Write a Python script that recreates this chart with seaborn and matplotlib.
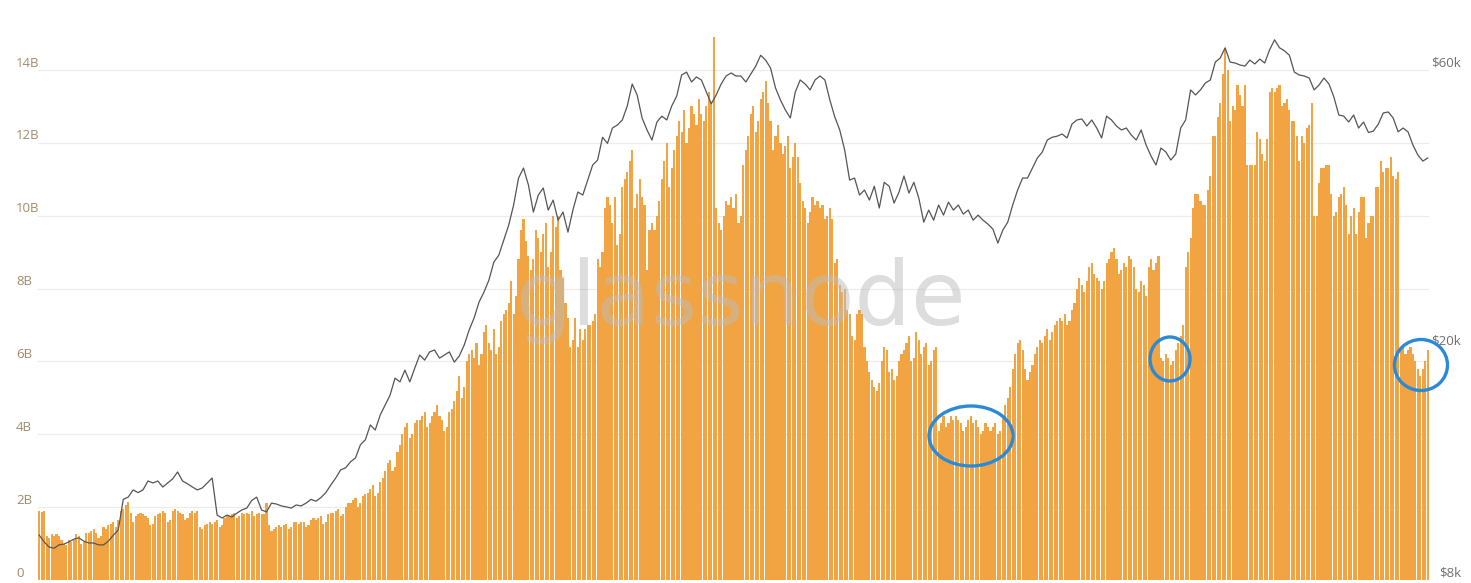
import numpy as np
import matplotlib
matplotlib.use("Agg")
import matplotlib.pyplot as plt
import seaborn as sns
from matplotlib.patches import Ellipse

# ---------------- data ----------------
# daily on-chain transfer volume in billions USD, one row per week (Wed..Tue)
volume_weeks = [
    [1.9, 1.88, 1.9, 1.2, 1.15, 1.25, 1.22],
    [1.25, 1.2, 1.1, 1.0, 0.95, 1.1, 1.05],
    [1.1, 1.25, 1.2, 1.0, 1.05, 1.3, 1.3],
    [1.35, 1.4, 1.3, 1.15, 1.2, 1.45, 1.4],
    [1.5, 1.55, 1.6, 1.45, 1.65, 1.9, 1.95],
    [2.05, 2.15, 1.85, 1.6, 1.75, 1.8, 1.85],
    [1.8, 1.75, 1.7, 1.5, 1.55, 1.75, 1.8],
    [1.85, 1.9, 1.85, 1.6, 1.65, 1.9, 1.95],
    [1.9, 1.85, 1.8, 1.65, 1.7, 1.85, 1.9],
    [1.85, 1.9, 1.45, 1.4, 1.5, 1.55, 1.6],
    [1.55, 1.6, 1.65, 1.45, 1.5, 1.7, 1.75],
    [1.75, 1.8, 1.85, 1.7, 1.75, 1.85, 1.8],
    [1.85, 1.8, 1.9, 1.75, 1.8, 1.85, 1.8],
    [1.8, 2.1, 1.5, 1.35, 1.4, 1.45, 1.5],
    [1.45, 1.5, 1.55, 1.4, 1.45, 1.6, 1.6],
    [1.55, 1.6, 1.6, 1.45, 1.5, 1.65, 1.7],
    [1.65, 1.7, 1.75, 1.55, 1.6, 1.8, 1.85],
    [1.85, 1.9, 1.95, 1.75, 1.8, 2.0, 2.1],
    [2.1, 2.2, 2.25, 2.0, 2.1, 2.3, 2.35],
    [2.4, 2.5, 2.6, 2.3, 2.4, 2.7, 2.8],
    [3.0, 3.2, 3.3, 3.0, 3.1, 3.5, 3.7],
    [4.0, 4.2, 4.3, 3.9, 4.0, 4.3, 4.4],
    [4.4, 4.5, 4.6, 4.2, 4.3, 4.5, 4.6],
    [4.8, 4.5, 4.4, 4.1, 4.2, 4.6, 4.7],
    [4.9, 5.2, 5.6, 5.0, 5.3, 6.0, 6.2],
    [6.3, 6.1, 6.5, 5.9, 6.2, 6.8, 7.0],
    [6.5, 6.3, 6.9, 6.2, 6.4, 7.1, 7.3],
    [7.4, 7.6, 8.2, 7.3, 7.8, 8.8, 9.6],
    [9.9, 9.3, 8.9, 8.5, 8.8, 9.6, 9.4],
    [9.0, 9.5, 9.8, 8.6, 9.0, 10.0, 9.7],
    [10.0, 8.5, 8.3, 7.6, 7.2, 6.4, 6.6],
    [7.2, 6.4, 6.9, 6.6, 6.9, 7.0, 7.0],
    [7.1, 7.3, 8.8, 8.6, 9.0, 10.2, 10.5],
    [10.3, 9.8, 10.5, 9.2, 9.5, 10.8, 11.0],
    [11.2, 11.5, 11.8, 10.2, 10.6, 11.0, 10.5],
    [10.3, 8.5, 9.6, 9.8, 9.6, 10.0, 10.4],
    [11.0, 11.5, 12.0, 10.8, 11.3, 11.8, 12.2],
    [12.6, 12.3, 12.9, 12.0, 12.4, 13.0, 12.8],
    [12.5, 13.2, 12.8, 12.6, 13.0, 13.4, 13.1],
    [14.9, 10.2, 9.8, 9.6, 10.0, 10.4, 10.3],
    [10.5, 10.2, 10.6, 9.8, 10.0, 11.4, 11.8],
    [12.2, 12.8, 13.0, 12.3, 12.6, 13.2, 13.4],
    [13.7, 13.1, 12.6, 11.8, 12.2, 12.5, 12.0],
    [11.7, 11.9, 12.2, 11.3, 11.6, 12.0, 11.6],
    [10.9, 10.4, 10.2, 9.8, 10.1, 10.5, 10.3],
    [10.4, 10.2, 10.3, 9.9, 10.0, 10.2, 9.9],
    [8.7, 8.8, 8.1, 7.9, 8.0, 7.4, 7.3],
    [6.7, 6.6, 7.3, 7.4, 7.3, 6.4, 6.0],
    [5.7, 5.5, 5.3, 5.2, 5.4, 6.0, 6.4],
    [6.3, 5.7, 5.8, 5.5, 5.6, 6.0, 6.2],
    [6.3, 6.5, 6.7, 6.0, 6.1, 6.8, 6.6],
    [6.2, 6.4, 6.5, 5.9, 6.0, 6.3, 6.4],
    [4.1, 4.3, 4.5, 4.2, 4.3, 4.5, 4.4],
    [4.5, 4.4, 4.3, 4.1, 4.2, 4.4, 4.5],
    [4.3, 4.4, 4.2, 4.0, 4.1, 4.3, 4.2],
    [4.1, 4.2, 4.3, 4.0, 4.1, 4.5, 4.8],
    [5.0, 5.3, 5.8, 6.2, 6.5, 6.6, 6.3],
    [5.8, 5.5, 5.7, 5.9, 6.2, 6.4, 6.6],
    [6.5, 6.7, 6.9, 6.6, 6.8, 7.0, 7.1],
    [7.2, 7.1, 7.3, 7.0, 7.1, 7.4, 7.6],
    [8.0, 8.3, 8.1, 7.9, 8.2, 8.6, 8.7],
    [8.4, 8.3, 8.2, 8.0, 8.2, 8.7, 8.8],
    [9.0, 9.1, 8.8, 8.4, 8.5, 8.7, 8.6],
    [8.9, 8.8, 8.6, 8.0, 7.9, 8.2, 8.1],
    [7.8, 8.6, 8.8, 8.5, 8.7, 8.9, 6.1],
    [6.0, 6.2, 6.1, 5.9, 6.0, 6.3, 6.5],
    [6.7, 7.0, 8.6, 9.0, 9.4, 10.2, 10.6],
    [10.6, 10.4, 10.3, 10.3, 10.7, 11.1, 12.2],
]
volume_late = [
    12.2, 12.7, 13.1, 13.9, 14.6, 14.0, 12.6, 13.0, 12.9, 13.6,
    13.3, 13.0, 13.6, 11.4, 11.4, 11.4, 11.4, 12.3, 12.1, 11.7,
    11.5, 12.1, 13.4, 13.5, 13.4, 13.5, 13.6, 13.0, 13.1, 13.2,
    12.9, 12.6, 12.6, 12.2, 11.5, 12.2, 12.0, 12.4, 12.5, 13.1,
    10.0, 10.0, 10.9, 11.3, 11.3, 11.4, 11.4, 10.6, 10.0, 10.1,
    10.5, 10.6, 10.8, 10.3, 9.5, 10.0, 10.2, 9.5, 10.1, 10.5,
    10.5, 9.4, 9.8, 10.0, 10.0, 10.8, 10.8, 11.5, 11.2, 11.3,
    11.3, 11.6, 11.1, 11.0, 11.2,
]
volume_last = [6.3, 6.4, 6.2, 6.3, 6.4, 6.2, 6.0, 5.8, 5.6, 5.8, 6.0, 6.3]

# BTC price in thousands USD, one value every 2 days
price_k = [
    9.55, 9.3, 9.11, 9.07, 9.19, 9.22, 9.3, 9.4, 9.45, 9.33,
    9.26, 9.26, 9.19, 9.19, 9.33, 9.55, 9.75, 11.0, 11.1, 11.42,
    11.3, 11.42, 11.83, 11.74, 11.83, 11.55, 11.74, 11.93, 12.26, 11.83,
    11.7, 11.55, 11.42, 11.51, 11.74, 11.97, 10.34, 10.22, 10.34, 10.26,
    10.42, 10.55, 10.63, 10.95, 11.1, 10.55, 10.47, 10.84, 10.8, 10.72,
    10.68, 10.63, 10.76, 10.72, 10.84, 11.0, 10.92, 11.08, 11.3, 11.64,
    11.97, 12.36, 12.46, 12.76, 12.96, 13.65, 13.92, 14.76, 14.47, 15.35,
    15.97, 16.61, 17.76, 17.5, 18.33, 17.5, 18.48, 19.46, 19.07, 19.7,
    19.85, 19.22, 19.46, 19.7, 18.92, 19.38, 20.24, 21.48, 22.52, 23.98,
    24.95, 26.16, 28.09, 28.87, 30.64, 32.5, 35.19, 39.15, 40.73, 38.08,
    34.23, 36.61, 37.64, 34.5, 35.89, 33.15, 34.23, 31.62, 34.5, 37.05,
    36.61, 38.84, 41.22, 42.04, 46.0, 44.9, 47.71, 48.28, 49.25, 52.05,
    56.77, 54.37, 49.64, 47.34, 45.5, 48.85, 50.0, 49.25, 52.05, 54.1,
    58.83, 59.5, 57.22, 58.37, 57.68, 55.0, 52.5, 54.37, 56.77, 58.6,
    59.3, 58.6, 58.6, 57.22, 59.06, 60.93, 63.6, 62.4, 60.47, 55.89,
    53.3, 51.23, 49.64, 55.0, 57.68, 56.77, 55.46, 57.68, 58.6, 57.68,
    53.3, 49.84, 47.34, 43.74, 38.84, 39.15, 36.61, 37.34, 35.89, 37.9,
    34.78, 38.5, 37.9, 35.47, 37.05, 39.47, 36.9, 38.5, 36.18, 32.89,
    34.5, 33.15, 35.19, 33.82, 35.6, 34.5, 35.19, 33.95, 34.5, 33.15,
    33.82, 33.15, 32.63, 32.0, 30.28, 31.87, 32.89, 35.19, 37.34, 39.15,
    39.15, 40.73, 42.38, 43.4, 45.5, 46.0, 46.2, 46.6, 45.87, 48.47,
    49.25, 49.45, 48.09, 49.25, 47.71, 45.87, 50.0, 49.25, 48.09, 47.34,
    47.71, 46.41, 45.5, 47.34, 44.61, 42.7, 41.22, 44.08, 43.4, 42.04,
    43.05, 47.71, 49.25, 55.46, 54.37, 55.46, 57.0, 57.68, 61.9, 62.9,
    65.5, 61.9, 61.68, 61.2, 60.93, 62.4, 61.45, 62.65, 61.68, 65.0,
    67.6, 65.5, 64.73, 63.6, 59.5, 58.83, 58.6, 58.14, 55.46, 56.55,
    58.14, 56.77, 53.94, 50.23, 50.0, 48.85, 50.23, 47.71, 48.85, 46.87,
    47.15, 48.47, 50.63, 50.83, 49.64, 47.0, 47.71, 47.0, 44.61, 42.88,
    41.87, 42.38,
]

volume_ticks = [0, 2, 4, 6, 8, 10, 12, 14]
volume_tick_labels = ["0", "2B", "4B", "6B", "8B", "10B", "12B", "14B"]
price_ticks = [8, 20, 60]
price_tick_labels = ["$8k", "$20k", "$60k"]

# ---------------- build ----------------
volume = [v for wk in volume_weeks for v in wk] + volume_late + volume_last
days = np.arange(len(volume))
price_days = np.arange(len(price_k)) * 2

W, H = 1471, 583
fig = plt.figure(figsize=(W / 100, H / 100), dpi=100)
fig.patch.set_facecolor("white")

px_left, px_right, px_bottom, px_top = 38, 1429, 580, 20
ax = fig.add_axes([px_left / W, (H - px_bottom) / H,
                   (px_right - px_left) / W, (px_bottom - px_top) / H])
ax.set_facecolor("none")

px_per_b = 36.43
ymax_left = (px_bottom - px_top) / px_per_b

for v in volume_ticks:
    ax.axhline(v, color="#ececec", lw=0.9, zorder=0)

sns.barplot(x=days, y=volume, ax=ax, color="#F2A443", saturation=1,
            width=0.86, native_scale=True, linewidth=0, zorder=2)

ax.set_xlim(-0.5, len(volume) - 0.5)
ax.set_ylim(0, ymax_left)
ax.set_xticks([])
ax.set_yticks([])
ax.set_xlabel("")
ax.set_ylabel("")
for s in ax.spines.values():
    s.set_visible(False)

ax2 = ax.twinx()
sns.lineplot(x=price_days, y=price_k, ax=ax2, color="#555555", lw=0.9,
             zorder=5)
ax2.set_yscale("log")
ax2.set_ylim(8, 8 * 7.5 ** ((px_bottom - px_top) / 510))
ax2.set_xlim(-0.5, len(volume) - 0.5)
ax2.set_yticks([])
ax2.minorticks_off()
ax2.set_yticks([], minor=True)
ax2.set_ylabel("")
for s in ax2.spines.values():
    s.set_visible(False)

# tick labels (sit slightly above their grid lines)
for v, lab in zip(volume_ticks, volume_tick_labels):
    ax.annotate(lab, xy=(16 / W, v), xycoords=("figure fraction", "data"),
                xytext=(0, 5), textcoords="offset points",
                ha="left", va="center", fontsize=9.5, color="#a28b6a",
                family="Open Sans", annotation_clip=False)
for v, lab in zip(price_ticks, price_tick_labels):
    ax2.annotate(lab, xy=(1461 / W, v), xycoords=("figure fraction", "data"),
                 xytext=(0, 5), textcoords="offset points",
                 ha="right", va="center", fontsize=9.5, color="#6f6f6f",
                 family="Open Sans", annotation_clip=False)

# watermark
fig.text(740 / W, 1 - 325 / H, "glassnode", ha="center", va="baseline",
         fontsize=64, color="#bcbcbc", alpha=0.5, family="DejaVu Sans",
         zorder=10)

# blue highlight ellipses
for cx, cy, ew, eh in [(971, 436, 84, 60), (1170, 359, 40, 44), (1421, 365, 53, 51)]:
    fig.patches.append(Ellipse((cx / W, 1 - cy / H), ew / W, eh / H,
                               transform=fig.transFigure, fill=False,
                               edgecolor="#2a8ad8", lw=2.4, zorder=20))

fig.savefig("out.png", dpi=100, facecolor="white")
